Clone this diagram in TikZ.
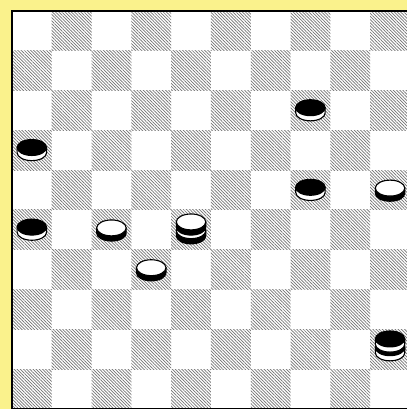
\documentclass[tikz,border=0pt]{standalone}
\usepackage[dvipsnames]{xcolor}
\usepackage{tikz}
\usetikzlibrary{patterns.meta}
\definecolor{amarilloFondo}{RGB}{250,242,140}
\tikzset{
  bd/dark/.style={pattern={Lines[angle=-45,distance=1.6pt,line width=0.5pt]},
    pattern color=black!55},
  bd/frame/.style={draw=black, line width=1.4pt},
  pc/edge/.style={draw=black, line width=0.8pt},
  pics/wman/.style={code={
    \filldraw[pc/edge, fill=black] (-0.37,0) -- (-0.37,-0.13)
      arc[start angle=180, end angle=360, x radius=0.37, y radius=0.2]
      -- (0.37,0) -- cycle;
    \filldraw[pc/edge, fill=white] (0,0) ellipse[x radius=0.37, y radius=0.2];
  }},
  pics/bman/.style={code={
    \filldraw[pc/edge, fill=white] (-0.37,0) -- (-0.37,-0.13)
      arc[start angle=180, end angle=360, x radius=0.37, y radius=0.2]
      -- (0.37,0) -- cycle;
    \filldraw[pc/edge, fill=black] (0,0) ellipse[x radius=0.37, y radius=0.2];
  }}
}

\begin{document}
\begin{tikzpicture}
  \fill[amarilloFondo] (-0.3,0) rectangle (9.925,10.276);
  \useasboundingbox (-0.3,0) rectangle (9.925,10.276);
  \clip (-0.3,0) rectangle (9.925,10.276);

  % tablero
  \fill[white] (0,0) rectangle (10,10);
  \foreach \c in {0,...,9}
    \foreach \r in {0,...,9} {
      \pgfmathparse{int(mod(\c+\r,2))}
      \ifnum\pgfmathresult=1 \fill[bd/dark] (\c,9-\r) rectangle ++(1,1); \fi
    }
  \draw[bd/frame] (0,0) rectangle (10,10);

  % piezas
  \foreach \c/\r in {7/2, 0/3, 7/4, 0/5}
    \pic at (\c+0.5, 9.57-\r) {bman};
  \foreach \c/\r in {9/4, 2/5, 3/6}
    \pic at (\c+0.5, 9.55-\r) {wman};

  % damas
  \pic at (4.5, 9.48-5) {wman};
  \pic at (4.5, 9.70-5) {wman};
  \pic at (9.5, 9.54-8) {bman};
  \pic at (9.5, 9.76-8) {bman};
\end{tikzpicture}
\end{document}
